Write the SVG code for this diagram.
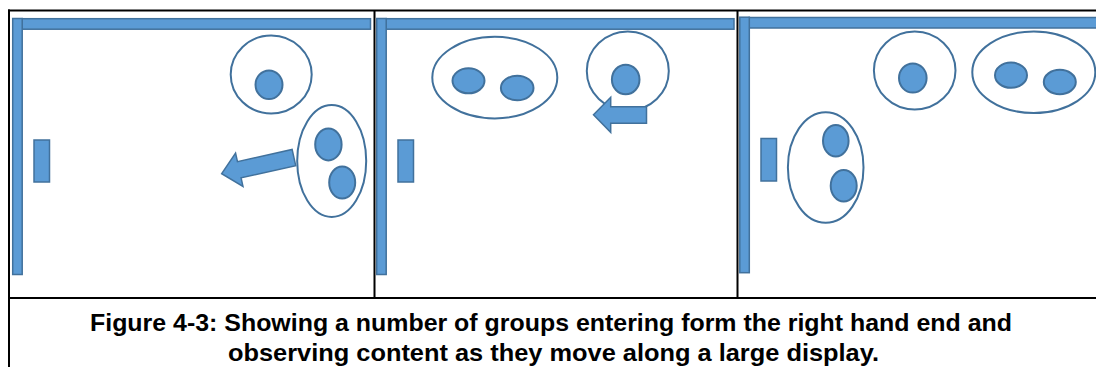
<svg xmlns="http://www.w3.org/2000/svg" width="1096" height="367" viewBox="0 0 1096 367">
<style>
.bar{fill:#5B9BD5;stroke:#41719C;stroke-width:1.5}
.grp{fill:none;stroke:#41719C;stroke-width:2}
.person{fill:#5B9BD5;stroke:#41719C;stroke-width:2}
.rule{stroke:#000;stroke-width:2;fill:none}
.arrow{fill:#5B9BD5;stroke:#41719C;stroke-width:1.5;stroke-linejoin:miter}
.cap{font-family:"Liberation Sans",Arial,sans-serif;font-weight:bold;font-size:24px;fill:#000;text-anchor:middle}
</style>
<rect width="1096" height="367" fill="#fff"/>
<g id="table">
<line class="rule" x1="8" y1="10.5" x2="1096" y2="10.5"/>
<line class="rule" x1="9" y1="9.5" x2="9" y2="367"/>
<line class="rule" x1="374.5" y1="10" x2="374.5" y2="298"/>
<line class="rule" x1="737.5" y1="10" x2="737.5" y2="298"/>
<line class="rule" x1="8" y1="298" x2="1096" y2="298"/>
</g>
<g id="panel1">
<g id="wall1">
<rect class="bar" x="22" y="18.7" width="348.5" height="10.5"/>
<rect class="bar" x="12.7" y="18.5" width="9.5" height="256"/>
</g>
<rect id="screen1" class="bar" x="34" y="140" width="15.5" height="42"/>
<g id="p1-single">
<ellipse class="grp" cx="271.2" cy="74.5" rx="40.5" ry="39"/>
<ellipse class="person" cx="269" cy="84.7" rx="13.5" ry="14.3"/>
</g>
<g id="p1-pair">
<ellipse class="grp" cx="331.7" cy="161" rx="34.5" ry="56"/>
<ellipse class="person" cx="328.4" cy="144.4" rx="13.2" ry="16"/>
<ellipse class="person" cx="342.2" cy="182.5" rx="13" ry="16"/>
</g>
</g>
<g id="panel2">
<g id="wall2">
<rect class="bar" x="386" y="18.7" width="348" height="10.5"/>
<rect class="bar" x="376.7" y="18.5" width="9.5" height="256"/>
</g>
<rect id="screen2" class="bar" x="398" y="140" width="15.5" height="42"/>
<g id="p2-pair">
<ellipse class="grp" cx="494.8" cy="77.6" rx="62.5" ry="40.8"/>
<ellipse class="person" cx="468.5" cy="80.8" rx="16" ry="12.5"/>
<ellipse class="person" cx="517.2" cy="88" rx="16.3" ry="12.3"/>
</g>
<g id="p2-single">
<ellipse class="grp" cx="627.8" cy="71" rx="41" ry="39.5"/>
<ellipse class="person" cx="625.7" cy="79.5" rx="13.8" ry="14.8"/>
</g>
</g>
<g id="panel3">
<g id="wall3">
<rect class="bar" x="749" y="17.5" width="350" height="10.5"/>
<rect class="bar" x="739.8" y="17.2" width="9.5" height="255.5"/>
</g>
<rect id="screen3" class="bar" x="761" y="138.5" width="15.5" height="42.5"/>
<g id="p3-pair-v">
<ellipse class="grp" cx="825.7" cy="167.5" rx="37.8" ry="55.3"/>
<ellipse class="person" cx="835.8" cy="140.8" rx="12.8" ry="15.8"/>
<ellipse class="person" cx="843.7" cy="185.8" rx="13" ry="15.8"/>
</g>
<g id="p3-single">
<ellipse class="grp" cx="914.7" cy="70.5" rx="40.8" ry="39"/>
<ellipse class="person" cx="912.8" cy="78" rx="13.8" ry="14.6"/>
</g>
<g id="p3-pair-h">
<ellipse class="grp" cx="1033.8" cy="72.2" rx="61.5" ry="40.8"/>
<ellipse class="person" cx="1011" cy="75.2" rx="16" ry="12.6"/>
<ellipse class="person" cx="1059.8" cy="82" rx="16" ry="12.2"/>
</g>
</g>
<g id="connectors">
<polygon class="arrow" transform="translate(221.7,173.7) rotate(-12.6)" points="0,0 18,-17 18,-8.3 74,-8.3 74,8.3 18,8.3 18,17"/>
<polygon class="arrow" points="593.5,114.8 610.7,97.3 610.7,106.7 646.5,106.7 646.5,123.3 610.7,123.3 610.7,132.3"/>
</g>
<g id="caption">
<text class="cap" x="551" y="331" textLength="922" lengthAdjust="spacingAndGlyphs">Figure 4-3: Showing a number of groups entering form the right hand end and</text>
<text class="cap" x="553.5" y="360.5" textLength="651" lengthAdjust="spacingAndGlyphs">observing content as they move along a large display.</text>
</g>
</svg>
